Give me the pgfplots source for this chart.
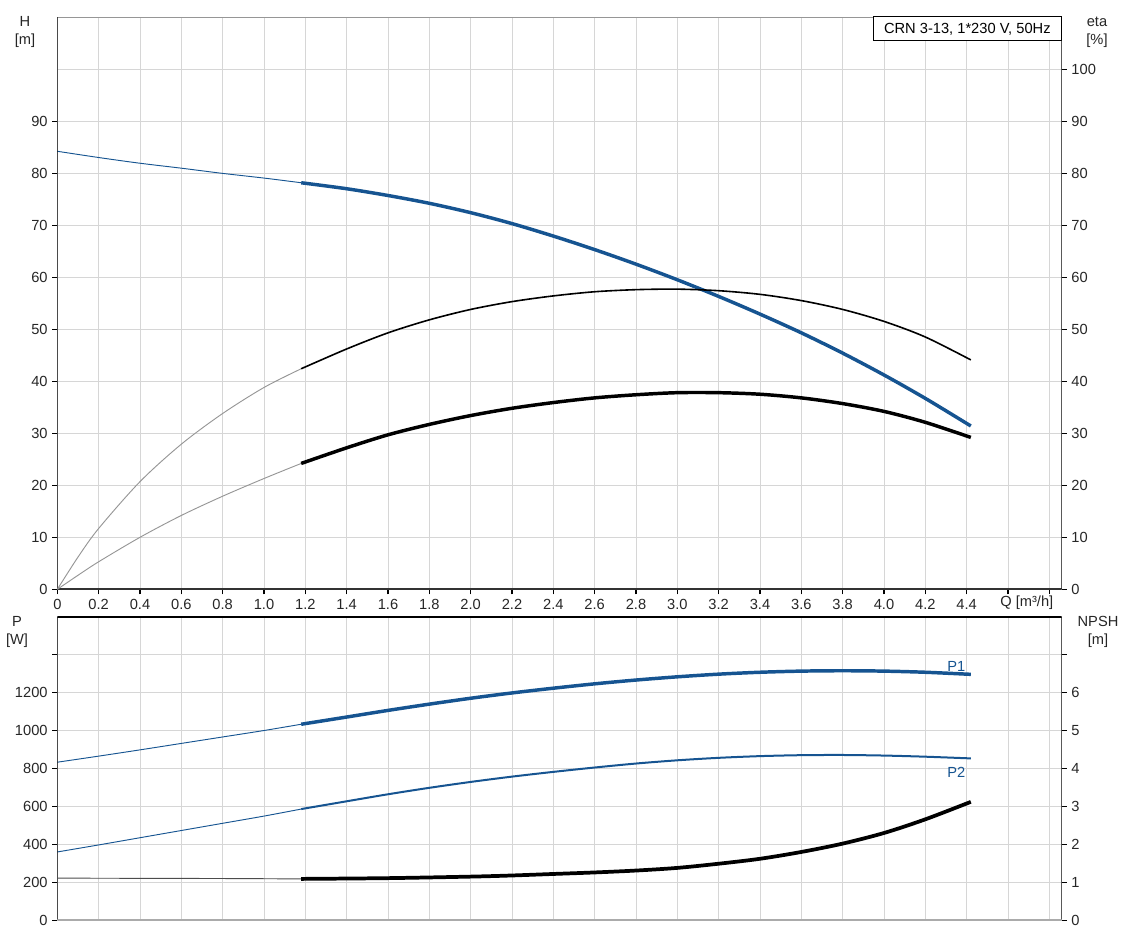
\documentclass[border=0pt]{standalone}
\usepackage{fontspec}
\setmainfont{Liberation Sans}
\usepackage{pgfplots}
\pgfplotsset{compat=1.18}
\definecolor{gblue}{RGB}{22,84,145}
\definecolor{gridgray}{RGB}{214,214,214}
\definecolor{thingray}{RGB}{150,150,150}
\definecolor{framegray}{RGB}{150,150,150}

\pgfplotsset{
  pumpaxis/.style={
    scale only axis, width=753.3pt,
    xmin=0, xmax=4.86,
    axis line style={draw=none},
    tick align=outside, major tick length=3.75pt,
    tick style={black, line width=0.8pt},
    tick label style={font=\fontsize{11}{13}\selectfont, text=black!85},
    xtick={0,0.2,0.4,0.6,0.8,1.0,1.2,1.4,1.6,1.8,2.0,2.2,2.4,2.6,2.8,3.0,3.2,3.4,3.6,3.8,4.0,4.2,4.4,4.6,4.8},
  },
  thinline/.style={line width=0.7pt, smooth},
  thickline/.style={line width=2.6pt, smooth},
}

\begin{document}
\begin{tikzpicture}[font=\fontsize{11}{13.5}\selectfont]
\path[use as bounding box] (0,0) rectangle (843pt,703.5pt);

% ---------------- upper chart: H and eta
\begin{axis}[pumpaxis,
    at={(43pt,261.5pt)}, anchor=south west, height=429.2pt,
    ymin=0, ymax=110,
    xtick pos=bottom, ytick pos=left,
    xticklabels={0,0.2,0.4,0.6,0.8,1.0,1.2,1.4,1.6,1.8,2.0,2.2,2.4,2.6,2.8,3.0,3.2,3.4,3.6,3.8,4.0,4.2,4.4,{},{}},
    ytick={0,10,20,30,40,50,60,70,80,90},
    yticklabels={0,10,20,30,40,50,60,70,80,90},
    extra y ticks={100}, extra y tick labels={},
    extra y tick style={major tick length=0pt},
    grid=major, major grid style={gridgray, line width=0.75pt},
  ]
  % H, thin part
  \addplot[gblue, thinline] coordinates {
    (0,84.2) (0.2,83.0) (0.4,81.9) (0.6,80.95) (0.8,79.95) (1.0,79.05) (1.18,78.15)};
  % H, thick part
  \addplot[gblue, thickline] coordinates {
    (1.18,78.15) (1.4,77.0) (1.6,75.7) (1.8,74.2) (2.0,72.4) (2.2,70.3)
    (2.4,67.9) (2.6,65.3) (2.8,62.5) (3.0,59.5) (3.2,56.3) (3.4,52.9)
    (3.6,49.3) (3.8,45.4) (4.0,41.2) (4.2,36.7) (4.42,31.4)};
  \draw[framegray, line width=0.75pt] (rel axis cs:0,1) -- (rel axis cs:1,1);
  \draw[black!80, line width=1.5pt] (rel axis cs:0,0) -- (rel axis cs:1,0);
  \draw[black, line width=1.5pt] (rel axis cs:0,0) -- (rel axis cs:0,1);
  \draw[black, line width=1.5pt] (rel axis cs:1,0) -- (rel axis cs:1,1);
\end{axis}

\begin{axis}[pumpaxis,
    at={(43pt,261.5pt)}, anchor=south west, height=429.2pt,
    ymin=0, ymax=110,
    axis x line=none, axis y line*=right,
    ytick={0,10,20,30,40,50,60,70,80,90,100},
    yticklabels={0,10,20,30,40,50,60,70,80,90,100},
  ]
  % eta (upper), thin and thick parts
  \addplot[thingray, thinline] coordinates {
    (0,0) (0.1,6.2) (0.2,11.7) (0.4,20.7) (0.6,27.9) (0.8,33.8) (1.0,38.8) (1.18,42.4)};
  \addplot[black, line width=1.2pt, smooth] coordinates {
    (1.18,42.4) (1.4,46.2) (1.6,49.3) (1.8,51.8) (2.0,53.8) (2.2,55.3)
    (2.4,56.4) (2.6,57.2) (2.8,57.6) (3.0,57.7) (3.2,57.4) (3.4,56.7)
    (3.6,55.5) (3.8,53.8) (4.0,51.5) (4.2,48.5) (4.42,44.1)};
  % eta (lower), thin and thick parts
  \addplot[thingray, thinline] coordinates {
    (0,0) (0.1,2.7) (0.2,5.3) (0.4,10.0) (0.6,14.2) (0.8,17.9) (1.0,21.3) (1.18,24.2)};
  \addplot[black, thickline] coordinates {
    (1.18,24.2) (1.4,27.2) (1.6,29.7) (1.8,31.7) (2.0,33.4) (2.2,34.8)
    (2.4,35.9) (2.6,36.8) (2.8,37.4) (3.0,37.8) (3.2,37.8) (3.4,37.5)
    (3.6,36.8) (3.8,35.7) (4.0,34.2) (4.2,32.1) (4.42,29.2)};
\end{axis}

% ---------------- lower chart: P1, P2 and NPSH
\begin{axis}[pumpaxis,
    at={(43pt,13.3pt)}, anchor=south west, height=227.7pt,
    ymin=0, ymax=1600,
    xtick pos=bottom, ytick pos=left,
    xticklabels={}, x tick style={draw=none},
    ytick={0,200,400,600,800,1000,1200,1400},
    yticklabels={0,200,400,600,800,1000,1200,{}},
    grid=major, major grid style={gridgray, line width=0.75pt},
  ]
  \addplot[gblue, thinline] coordinates {
    (0,833) (0.2,865) (0.4,898) (0.6,932) (0.8,966) (1.0,1000) (1.18,1033)};
  \addplot[gblue, thickline] coordinates {
    (1.18,1033) (1.4,1071) (1.6,1106) (1.8,1139) (2.0,1170) (2.2,1198)
    (2.4,1223) (2.6,1246) (2.8,1266) (3.0,1283) (3.2,1297) (3.4,1307)
    (3.6,1313) (3.8,1315) (4.0,1313) (4.2,1307) (4.42,1296)};
  \addplot[gblue, thinline] coordinates {
    (0,360) (0.2,397) (0.4,435) (0.6,473) (0.8,511) (1.0,549) (1.18,586)};
  \addplot[gblue, line width=1.5pt, smooth] coordinates {
    (1.18,586) (1.4,627) (1.6,664) (1.8,698) (2.0,729) (2.2,757)
    (2.4,782) (2.6,805) (2.8,826) (3.0,843) (3.2,856) (3.4,865)
    (3.6,870) (3.8,871) (4.0,868) (4.2,862) (4.42,853)};
  \node[text=gblue, anchor=base] at (axis cs:4.35,1310) {P1};
  \node[text=gblue, anchor=base] at (axis cs:4.35,755) {P2};
  \draw[black, line width=1.5pt] (rel axis cs:0,1) -- (rel axis cs:1,1);
  \draw[black, line width=1.5pt] (rel axis cs:0,0) -- (rel axis cs:0,1);
  \draw[black, line width=1.5pt] (rel axis cs:1,0) -- (rel axis cs:1,1);
  \draw[gridgray!80!black, line width=1.2pt] (rel axis cs:0,0) -- (rel axis cs:1,0);
\end{axis}

\begin{axis}[pumpaxis,
    at={(43pt,13.3pt)}, anchor=south west, height=227.7pt,
    ymin=0, ymax=8,
    axis x line=none, axis y line*=right,
    ytick={0,1,2,3,4,5,6,7},
    yticklabels={0,1,2,3,4,5,6,{}},
  ]
  \addplot[black!70, line width=0.7pt] coordinates {
    (0,1.11) (0.4,1.105) (0.8,1.10) (1.18,1.09)};
  \addplot[black, line width=2.8pt, smooth] coordinates {
    (1.18,1.09) (1.6,1.11) (2.0,1.15) (2.2,1.18) (2.4,1.22) (2.6,1.26)
    (2.8,1.31) (3.0,1.38) (3.2,1.49) (3.4,1.62) (3.6,1.80) (3.8,2.02)
    (4.0,2.30) (4.2,2.66) (4.42,3.12)};
\end{axis}

% axis titles and the box
\node[align=center, text=black!85] at (18.75pt,679.5pt) {H\\{[m]}};
\node[align=center, text=black!85] at (822.75pt,679.5pt) {eta\\{[\%]}};
\node[align=center, text=black!85] at (12.75pt,229.5pt) {P\\{[W]}};
\node[align=center, text=black!85] at (823.5pt,229.5pt) {NPSH\\{[m]}};
\node[anchor=west, text=black!85, inner sep=0pt] at (750pt,251.25pt) {Q [m³/h]};
\node[draw=black, line width=0.75pt, fill=white, minimum width=141.5pt,
      minimum height=18pt, inner sep=0pt] at (725.5pt,681.75pt) {CRN 3-13, 1*230 V, 50Hz};
\end{tikzpicture}
\end{document}
